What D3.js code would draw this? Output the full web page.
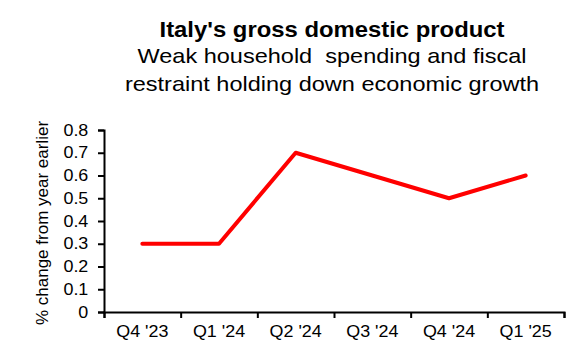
<!DOCTYPE html>
<html>
<head>
<meta charset="utf-8">
<script src="https://cdn.jsdelivr.net/npm/d3@7"></script>
<style>
  html, body { margin: 0; padding: 0; background: #fff; }
  svg { display: block; }
  text { font-family: "Liberation Sans", Arial, sans-serif; fill: #000; }
</style>
</head>
<body>
<svg id="chart" width="580" height="360"></svg>
<script>
const categories = ["Q4 '23", "Q1 '24", "Q2 '24", "Q3 '24", "Q4 '24", "Q1 '25"];
const gdpValues = [0.3, 0.3, 0.7, 0.6, 0.5, 0.6];
const yTicks = [0, 0.1, 0.2, 0.3, 0.4, 0.5, 0.6, 0.7, 0.8];
const titleText = "Italy's gross domestic product";
const subtitleLines = ["Weak household  spending and fiscal", "restraint holding down economic growth"];
const yAxisLabel = "% change from year earlier";

(function () {
const SX = 1.12; // horizontal stretch seen in the reference text
const svg = d3.select("#chart");
const pLeft = 104, pRight = 564, pTop = 130, pBottom = 312;

const x = d3.scaleBand().domain(categories).range([pLeft, pRight]).paddingInner(0).paddingOuter(0);
const xb = d3.scaleLinear().domain([0, categories.length]).range([pLeft, pRight]);
const y = d3.scaleLinear().domain([0, 0.8]).range([pBottom, pTop]);

// Title
const cx = 332;
svg.append("text")
  .attr("transform", `translate(${cx},37) scale(${SX},1)`)
  .attr("text-anchor", "middle")
  .style("font-size", "21.3px").style("font-weight", "bold")
  .text(titleText);
subtitleLines.forEach((s, i) => {
  svg.append("text")
    .attr("transform", `translate(${cx},${63 + i * 27.5}) scale(${SX},1)`)
    .attr("text-anchor", "middle")
    .style("font-size", "21px")
    .style("white-space", "pre")
    .text(s);
});

// Y axis
const yAxis = svg.append("g")
  .attr("transform", `translate(${pLeft},0)`)
  .call(d3.axisLeft(y).tickValues(yTicks).tickFormat(d3.format("~g")).tickSize(6).tickPadding(8));
yAxis.selectAll("text").attr("transform", `scale(${SX},1)`).style("font-size", "16px");

// X axis: boundary ticks
const xTickAxis = svg.append("g")
  .attr("transform", `translate(0,${pBottom})`)
  .call(d3.axisBottom(xb).tickValues(d3.range(categories.length + 1)).tickFormat("").tickSize(6));
// X labels at band centres
const xLab = svg.append("g")
  .attr("transform", `translate(0,${pBottom})`)
  .call(d3.axisBottom(x).tickSize(0).tickPadding(14));
xLab.select(".domain").remove();
xLab.selectAll("text").attr("transform", `scale(${SX},1)`).style("font-size", "16px");

[yAxis, xTickAxis].forEach(g => {
  g.select(".domain").attr("stroke", "#000").attr("stroke-width", 2);
  g.selectAll(".tick line").attr("stroke", "#000").attr("stroke-width", 2);
});
svg.selectAll(".tick text").attr("fill", "#000");

// Y label
svg.append("text")
  .attr("transform", `translate(48,223) rotate(-90)`)
  .attr("text-anchor", "middle")
  .style("font-size", "17px")
  .text(yAxisLabel);

// Line
const line = d3.line()
  .x((d, i) => x(categories[i]) + x.bandwidth() / 2)
  .y(d => y(d));
svg.append("path")
  .datum(gdpValues)
  .attr("d", line)
  .attr("fill", "none")
  .attr("stroke", "#ff0000")
  .attr("stroke-width", 4)
  .attr("stroke-linejoin", "round")
  .attr("stroke-linecap", "round");
})();
</script>
</body>
</html>
